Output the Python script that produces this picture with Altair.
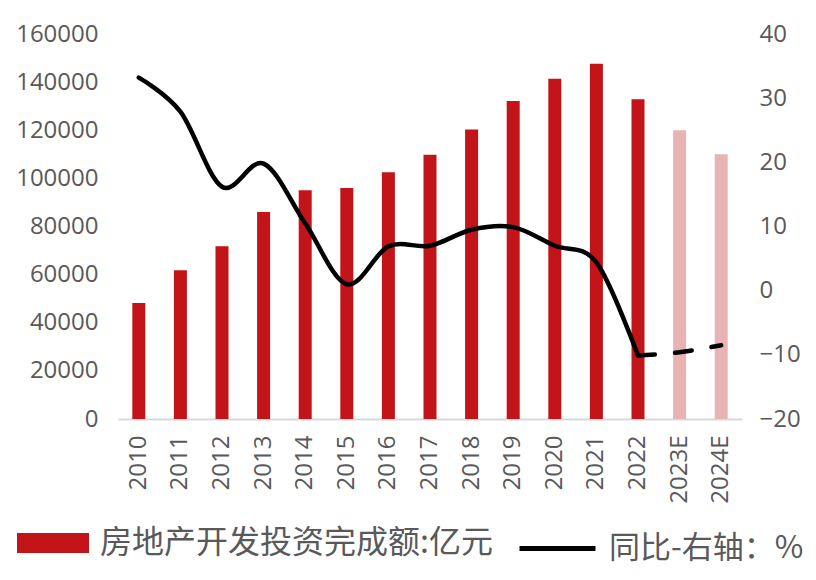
import altair as alt
import pandas as pd

years = ["2010", "2011", "2012", "2013", "2014", "2015", "2016", "2017",
         "2018", "2019", "2020", "2021", "2022", "2023E", "2024E"]
invest = [48259, 61797, 71804, 86013, 95036, 95979, 102581, 109799,
          120264, 132194, 141443, 147602, 132895, 120000, 110000]
yoy = [33.2, 27.9, 16.2, 19.8, 10.5, 1.0, 6.9, 7.0, 9.5, 9.9, 7.0, 4.4,
       -10.1, -9.6, -8.5]
bar_kind = ["实际"] * 13 + ["预测"] * 2

BAR_NAME = "房地产开发投资完成额:亿元"
LINE_NAME = "同比-右轴：%"

bars_df = pd.DataFrame({
    "year": years,
    "invest": invest,
    "kind": [BAR_NAME if k == "实际" else "预测" for k in bar_kind],
})
line_df = pd.DataFrame({"year": years, "yoy": yoy, "series": LINE_NAME})
solid_df = line_df.iloc[:13]
dash_df = line_df.iloc[12:]

FONT = "Open Sans"
CJK = "Noto Sans CJK SC"
GRAY = "#595959"

x_enc = alt.X("year:N", sort=years, title=None,
              scale=alt.Scale(paddingInner=0, paddingOuter=0),
              axis=alt.Axis(labelAngle=-90, labelFont=FONT, labelFontSize=24,
                            labelColor=GRAY, ticks=False, labelPadding=16,
                            domainColor="#D9D9D9", domainWidth=2, grid=False))

bars = alt.Chart(bars_df).mark_bar(size=13).encode(
    x=x_enc,
    y=alt.Y("invest:Q", title=None,
            scale=alt.Scale(domain=[0, 160000], nice=False),
            axis=alt.Axis(values=list(range(0, 160001, 20000)), format="d",
                          labelFont=FONT, labelFontSize=24, labelColor=GRAY,
                          ticks=False, domain=False, grid=False,
                          labelPadding=20)),
    color=alt.Color("kind:N",
                    scale=alt.Scale(domain=[BAR_NAME, "预测"],
                                    range=["#C21419", "#EAB3B3"]),
                    legend=alt.Legend(values=[BAR_NAME], title=None,
                                      orient="none", legendX=-101, legendY=473,
                                      symbolType="M-1,-0.2778H1V0.2778H-1Z",
                                      symbolSize=5184, symbolStrokeWidth=0,
                                      labelFont=CJK, labelFontSize=32,
                                      labelColor=GRAY, labelLimit=1000,
                                      labelOffset=11, padding=0)),
)

y_right = alt.Y("yoy:Q", title=None,
                scale=alt.Scale(domain=[-20, 40], nice=False),
                axis=alt.Axis(orient="right", values=list(range(-20, 41, 10)),
                              labelFont=FONT, labelFontSize=24,
                              labelColor=GRAY, ticks=False, domain=False,
                              grid=False, labelPadding=17))

stroke_enc = alt.Stroke("series:N",
                        scale=alt.Scale(domain=[LINE_NAME], range=["#000000"]),
                        legend=alt.Legend(title=None, orient="none",
                                          legendX=399, legendY=474,
                                          symbolType="stroke",
                                          symbolSize=5776,
                                          symbolStrokeWidth=5,
                                          labelFont=CJK, labelFontSize=31,
                                          labelColor=GRAY, labelLimit=1000,
                                          labelOffset=11, padding=0))

line_solid = alt.Chart(solid_df).mark_line(
    interpolate="cardinal", strokeWidth=4.5, strokeCap="round"
).encode(x=alt.X("year:N", sort=years), y=y_right, stroke=stroke_enc)

line_dash = alt.Chart(dash_df).mark_line(
    interpolate="cardinal", strokeWidth=4.5, strokeCap="round",
    strokeDash=[17, 20]
).encode(x=alt.X("year:N", sort=years), y=y_right, stroke=stroke_enc)

lines = alt.layer(line_solid, line_dash)

chart = alt.layer(bars, lines).resolve_scale(
    y="independent"
).properties(
    width=624, height=385,
    background="white",
    autosize=alt.AutoSizeParams(type="none"),
    padding={"left": 110, "top": 26, "right": 66, "bottom": 153},
).configure_view(strokeWidth=0, stroke="transparent")

chart.save("out.html", embed_options={"renderer": "svg", "actions": False})
